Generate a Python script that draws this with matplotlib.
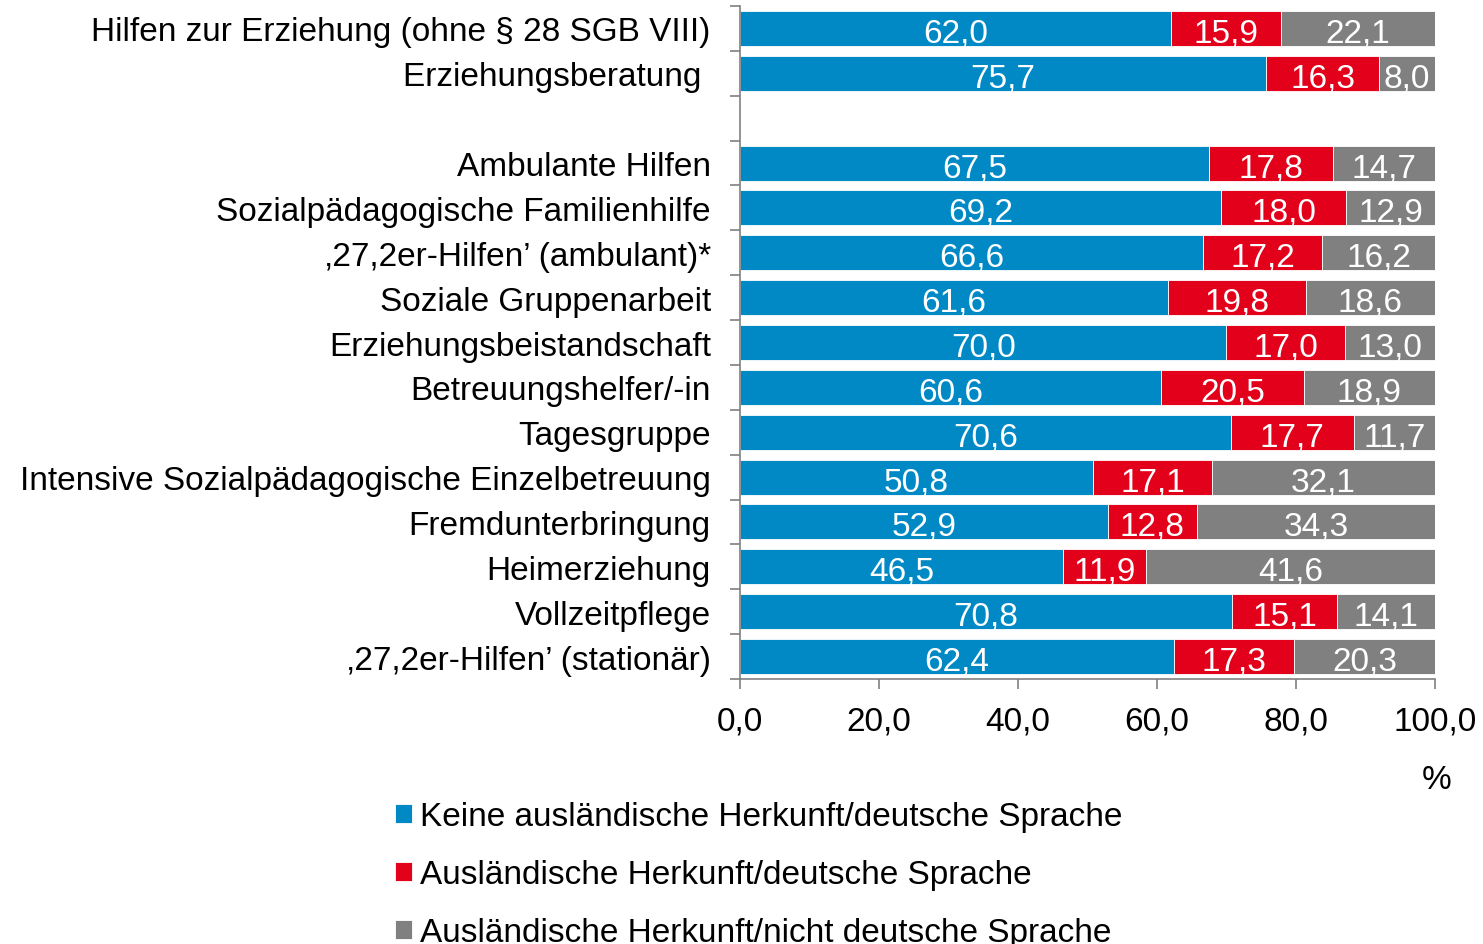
import matplotlib
matplotlib.use("Agg")
import matplotlib.pyplot as plt
from matplotlib import font_manager
import numpy as np

categories = [
    "Hilfen zur Erziehung (ohne § 28 SGB VIII)",
    "Erziehungsberatung ",
    "Ambulante Hilfen",
    "Sozialpädagogische Familienhilfe",
    "‚27,2er-Hilfen’ (ambulant)*",
    "Soziale Gruppenarbeit",
    "Erziehungsbeistandschaft",
    "Betreuungshelfer/-in",
    "Tagesgruppe",
    "Intensive Sozialpädagogische Einzelbetreuung",
    "Fremdunterbringung",
    "Heimerziehung",
    "Vollzeitpflege",
    "‚27,2er-Hilfen’ (stationär)",
]
keine = [62.0, 75.7, 67.5, 69.2, 66.6, 61.6, 70.0, 60.6, 70.6, 50.8, 52.9, 46.5, 70.8, 62.4]
ausl_deutsch = [15.9, 16.3, 17.8, 18.0, 17.2, 19.8, 17.0, 20.5, 17.7, 17.1, 12.8, 11.9, 15.1, 17.3]
ausl_nicht = [22.1, 8.0, 14.7, 12.9, 16.2, 18.6, 13.0, 18.9, 11.7, 32.1, 34.3, 41.6, 14.1, 20.3]
series_names = [
    "Keine ausländische Herkunft/deutsche Sprache",
    "Ausländische Herkunft/deutsche Sprache",
    "Ausländische Herkunft/nicht deutsche Sprache",
]
x_ticks = [0, 20, 40, 60, 80, 100]

colors = ["#0089C4", "#E2001A", "#808080"]

names = {f.name for f in font_manager.fontManager.ttflist}
main_font = "Liberation Sans" if "Liberation Sans" in names else "DejaVu Sans"
plt.rcParams["font.family"] = [main_font, "DejaVu Sans"]

fig = plt.figure(figsize=(14.83, 9.45), dpi=100)
ax = fig.add_axes([0.499, 0.2804, 0.4686, 0.7122])

gap_after = 1
n = len(categories)
ypos = np.array([i if i <= gap_after else i + 1 for i in range(n)], dtype=float)
nslots = n + 1

data = [np.array(keine), np.array(ausl_deutsch), np.array(ausl_nicht)]
left = np.zeros(n)
containers = []
for vals, col, name in zip(data, colors, series_names):
    c = ax.barh(ypos, vals, left=left, height=0.78, color=col, label=name,
                edgecolor="white", linewidth=0.6)
    containers.append(c)
    for y, l, v in zip(ypos, left, vals):
        ax.text(l + v / 2, y + 0.1, f"{v:.1f}".replace(".", ","), ha="center", va="center",
                color="white", fontsize=24)
    left = left + vals

ax.set_xlim(0, 100)
ax.set_ylim(nslots - 0.5, -0.5)
ax.set_xticks(x_ticks)
ax.set_xticklabels([f"{t:.1f}".replace(".", ",") for t in x_ticks], fontsize=24)
ax.set_yticks(ypos)
ax.set_yticklabels(categories, fontsize=24)
ax.set_yticks(np.arange(nslots + 1) - 0.5, minor=True)
ax.tick_params(axis="y", which="major", length=0, pad=21)
ax.tick_params(axis="y", which="minor", length=7, color="#808080", width=1.2)
ax.tick_params(axis="x", which="major", length=7, color="#808080", width=1.2, pad=12)
for s in ["top", "right"]:
    ax.spines[s].set_visible(False)
for s in ["left", "bottom"]:
    ax.spines[s].set_color("#808080")
    ax.spines[s].set_linewidth(1.2)

fig.text(1437 / 1483, 1 - 781 / 945, "%", ha="center", va="center", fontsize=24)

leg = fig.legend(handles=containers, labels=series_names, loc="upper left",
                 bbox_to_anchor=(382 / 1483, 1 - 789 / 945), frameon=False,
                 fontsize=24, handlelength=0.5, handleheight=0.5, handletextpad=0.24,
                 labelspacing=0.81, borderaxespad=0)

fig.savefig("out.png", dpi=100)
